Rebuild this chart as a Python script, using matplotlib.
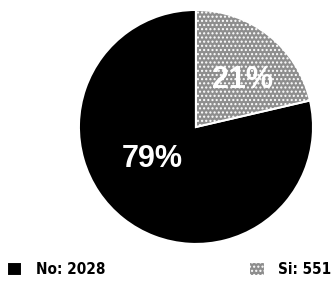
import matplotlib
matplotlib.use("Agg")
from matplotlib import pyplot as plt

labels = ['No', 'Si']
counts = [2028, 551]
colors = ['#000000', '#8e8e8e']

fig = plt.figure(figsize=(3.33, 2.84), dpi=100)
ax = fig.add_axes([0.237, 0.141, 0.703, 0.824])

wedges, texts, autotexts = ax.pie(
    counts, colors=colors, startangle=90, counterclock=True,
    autopct='%1.0f%%', pctdistance=0.55,
    wedgeprops={'edgecolor': 'white', 'linewidth': 1.5},
    textprops={'color': 'white', 'fontsize': 22, 'fontweight': 'bold',
               'family': ['Liberation Sans', 'DejaVu Sans']})
# grey slice looks stippled in the original
wedges[1].set_hatch('....')
ax.set_aspect('auto')
ax.set_xlim(-1.0, 1.0)
ax.set_ylim(-1.0, 1.0)

# move percentage labels where they sit in the picture
autotexts[0].set_position((-0.37, -0.27))
autotexts[1].set_position((0.40, 0.40))

leg_labels = [f'{l}: {c}' for l, c in zip(labels, counts)]
fig.legend(wedges, leg_labels, loc='lower left', bbox_to_anchor=(-0.02, -0.025),
           ncol=2, frameon=False, handlelength=1.0, handleheight=1.0,
           handletextpad=0.9, columnspacing=9.4,
           prop={'family': 'DejaVu Sans', 'stretch': 'condensed',
                 'weight': 'bold', 'size': 11})

fig.savefig('out.png', dpi=100)
